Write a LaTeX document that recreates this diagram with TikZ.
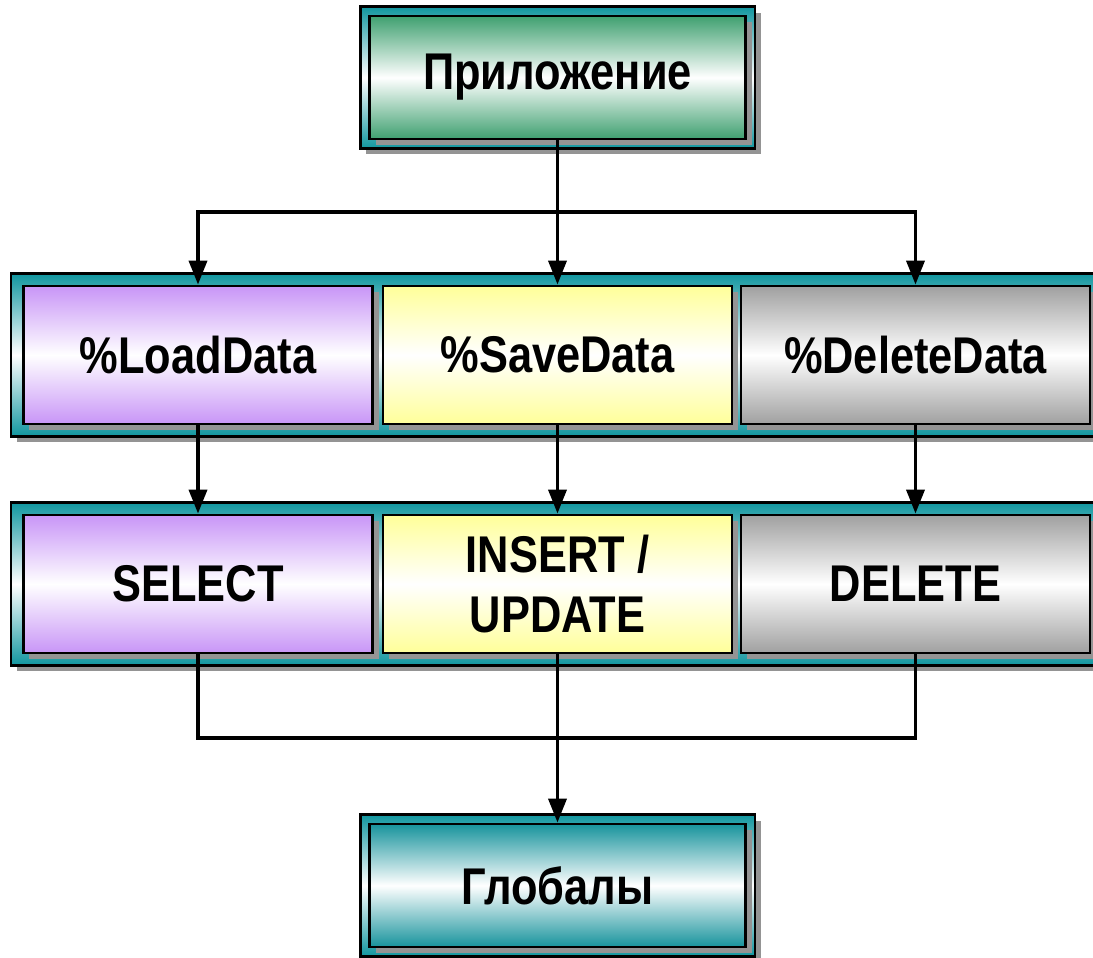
\documentclass[tikz,border=0pt]{standalone}
\usepackage{fontspec}
\newfontfamily\boxfont{Liberation Sans}[FakeStretch=0.84]
\usetikzlibrary{arrows.meta,fit,backgrounds,shadows}

\definecolor{frameteal}{HTML}{11969F}
\definecolor{appgreen}{HTML}{3FA070}
\definecolor{lilac}{HTML}{C895F7}
\definecolor{lemon}{HTML}{FFFF99}
\definecolor{silver}{HTML}{A0A0A0}
\definecolor{globteal}{HTML}{17939C}

\begin{document}
\begin{tikzpicture}[
    box/.style={
        draw=black,
        line width=0.8pt,
        top color=#1,
        bottom color=#1,
        middle color=white,
        minimum width=3.49cm,
        minimum height=1.38cm,
        font=\boxfont\bfseries\fontsize{14.7}{17}\selectfont,
        align=center,
        drop shadow={opacity=1, fill=black!42, shadow xshift=0.06cm, shadow yshift=-0.06cm}
    },
    frame/.style={
        draw=black,
        line width=0.8pt,
        top color=frameteal,
        bottom color=frameteal,
        middle color=white,
        inner sep=0.11cm,
        drop shadow={opacity=1, fill=black!42, shadow xshift=0.06cm, shadow yshift=-0.06cm}
    },
    link/.style={
        line width=1pt,
        -{Triangle[length=0.24cm,width=0.18cm]}
    },
    line/.style={
        line width=1pt
    }
]
\useasboundingbox (0,0) rectangle (10.93,-9.57);

% boxes
\node[box=appgreen, minimum width=3.76cm, minimum height=1.23cm] (app) at (5.575,-0.775) {Приложение};

\node[box=lilac] (load) at (1.98,-3.55) {\%LoadData};
\node[box=lemon] (save) at (5.575,-3.55) {\%SaveData};
\node[box=silver] (del) at (9.155,-3.55) {\%DeleteData};

\node[box=lilac] (sel) at (1.98,-5.84) {SELECT};
\node[box=lemon] (ins) at (5.575,-5.84) {INSERT /\\UPDATE};
\node[box=silver] (dele) at (9.155,-5.84) {DELETE};

\node[box=globteal, minimum width=3.76cm, minimum height=1.23cm] (glob) at (5.575,-8.855) {Глобалы};

% frames
\begin{scope}[on background layer]
\node[frame, inner sep=0.08cm, fit=(app)] (fapp) {};
\node[frame, fit=(load)(del)] (frow1) {};
\node[frame, fit=(sel)(dele)] (frow2) {};
\node[frame, inner sep=0.08cm, fit=(glob)] (fglob) {};
\end{scope}

% connectors
\coordinate (split) at (5.575,-2.12);
\coordinate (join) at (5.575,-7.38);

\draw[line] (app.south) -- (split);
\draw[link] (split) -| (load.north);
\draw[link] (split) -- (save.north);
\draw[link] (split) -| (del.north);

\draw[link] (load) -- (sel);
\draw[link] (save) -- (ins);
\draw[link] (del) -- (dele);

\draw[line] (sel.south) |- (join) -| (dele.south);
\draw[link] (ins.south) -- (glob.north);

\end{tikzpicture}
\end{document}
